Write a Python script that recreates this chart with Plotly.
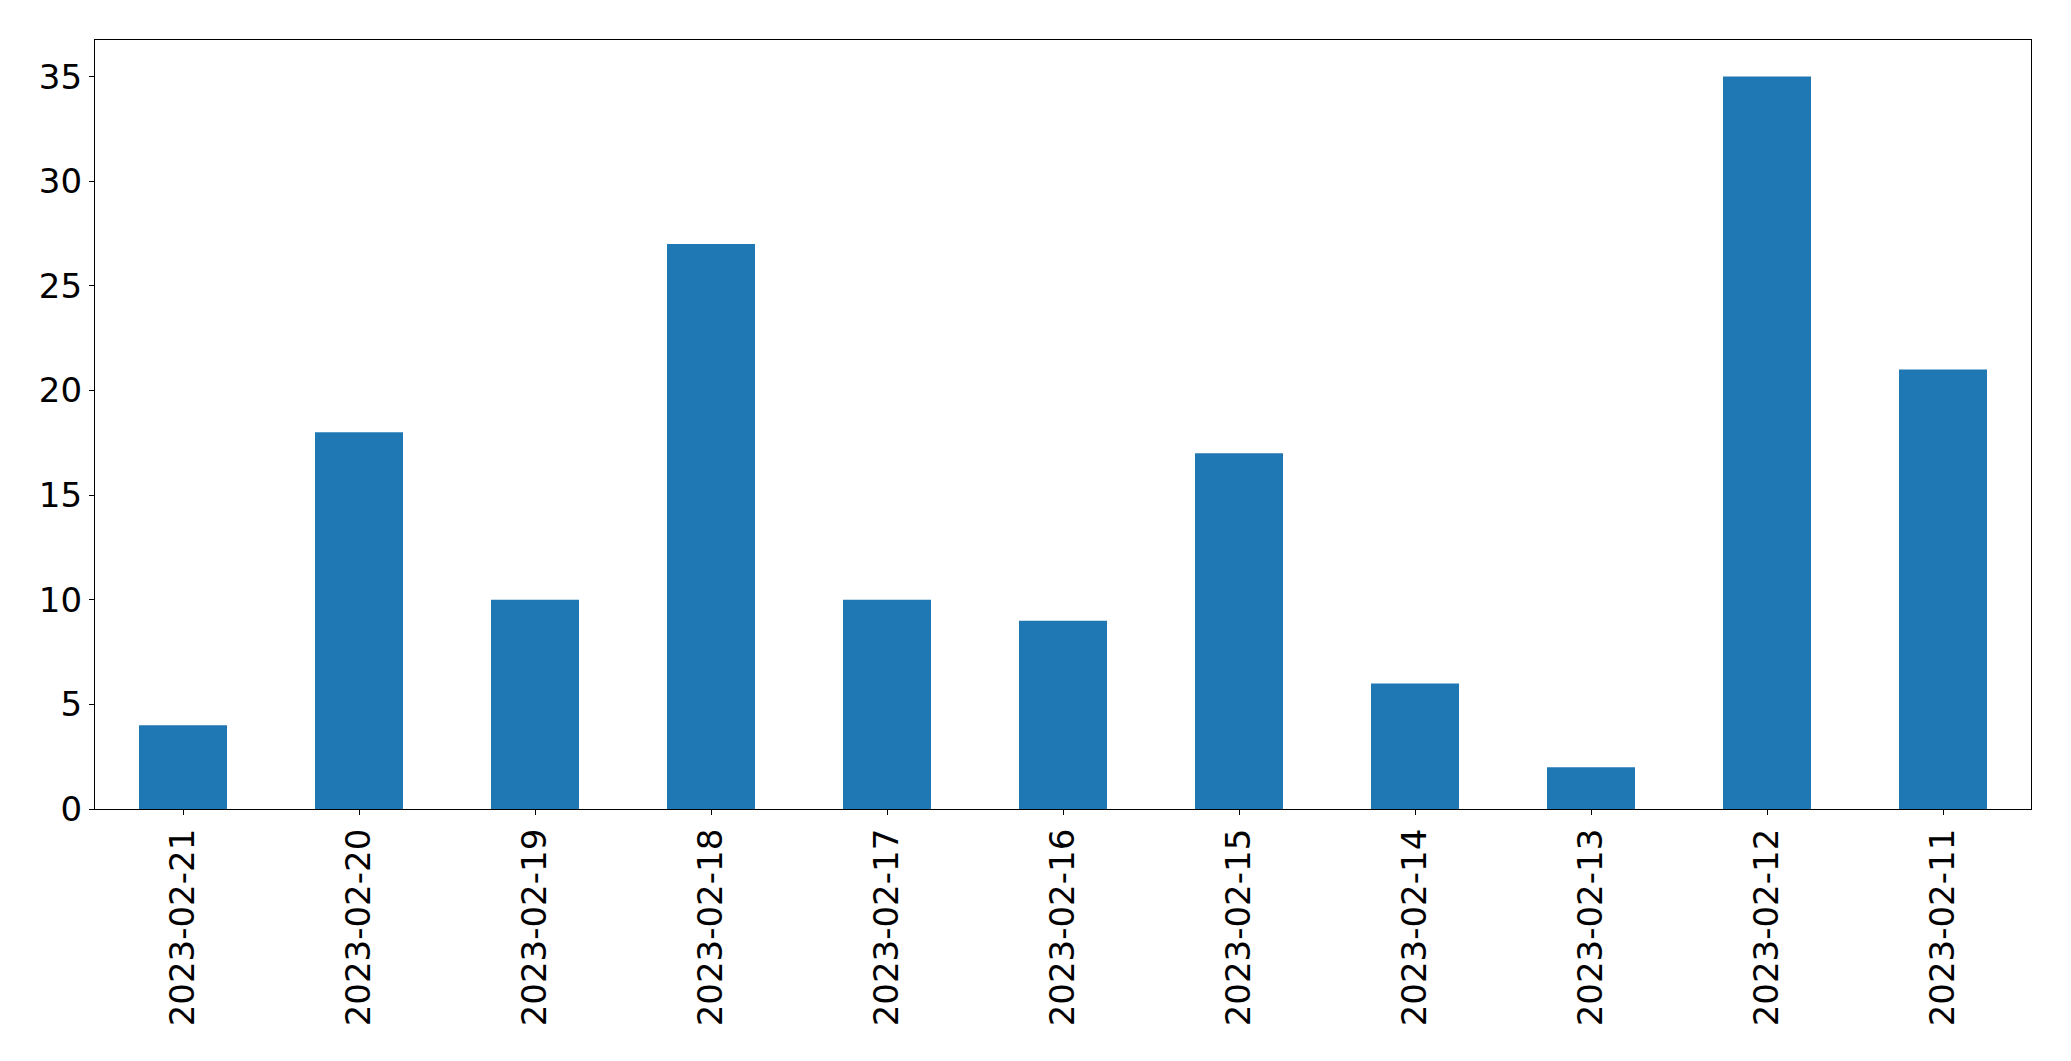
import plotly.graph_objects as go

dates = ["2023-02-21", "2023-02-20", "2023-02-19", "2023-02-18", "2023-02-17",
         "2023-02-16", "2023-02-15", "2023-02-14", "2023-02-13", "2023-02-12", "2023-02-11"]
counts = [4, 18, 10, 27, 10, 9, 17, 6, 2, 35, 21]
y_ticks = [0, 5, 10, 15, 20, 25, 30, 35]

fig = go.Figure(go.Bar(x=dates, y=counts, marker_color="#1f77b4", marker_line_width=0, width=0.5))

font = dict(family="DejaVu Sans", size=34, color="black")
fig.update_layout(
    width=2063, height=1053,
    margin=dict(l=86.5, r=39.5, t=31.5, b=252, pad=0),
    paper_bgcolor="white", plot_bgcolor="white",
    showlegend=False,
    font=font,
)
fig.update_xaxes(
    type="category", range=[-0.5, 10.5], tickangle=-90,
    showline=True, mirror=True, linecolor="black", linewidth=1.3,
    ticks="outside", ticklen=5, tickwidth=1.3, tickcolor="black",
    showgrid=False, zeroline=False, tickfont=font,
)
fig.update_yaxes(
    range=[0, 36.75], tickvals=y_ticks,
    showline=True, mirror=True, linecolor="black", linewidth=1.3,
    ticks="outside", ticklen=5, tickwidth=1.3, tickcolor="black",
    showgrid=False, zeroline=False, tickfont=font,
)
fig.write_html("out.html")
